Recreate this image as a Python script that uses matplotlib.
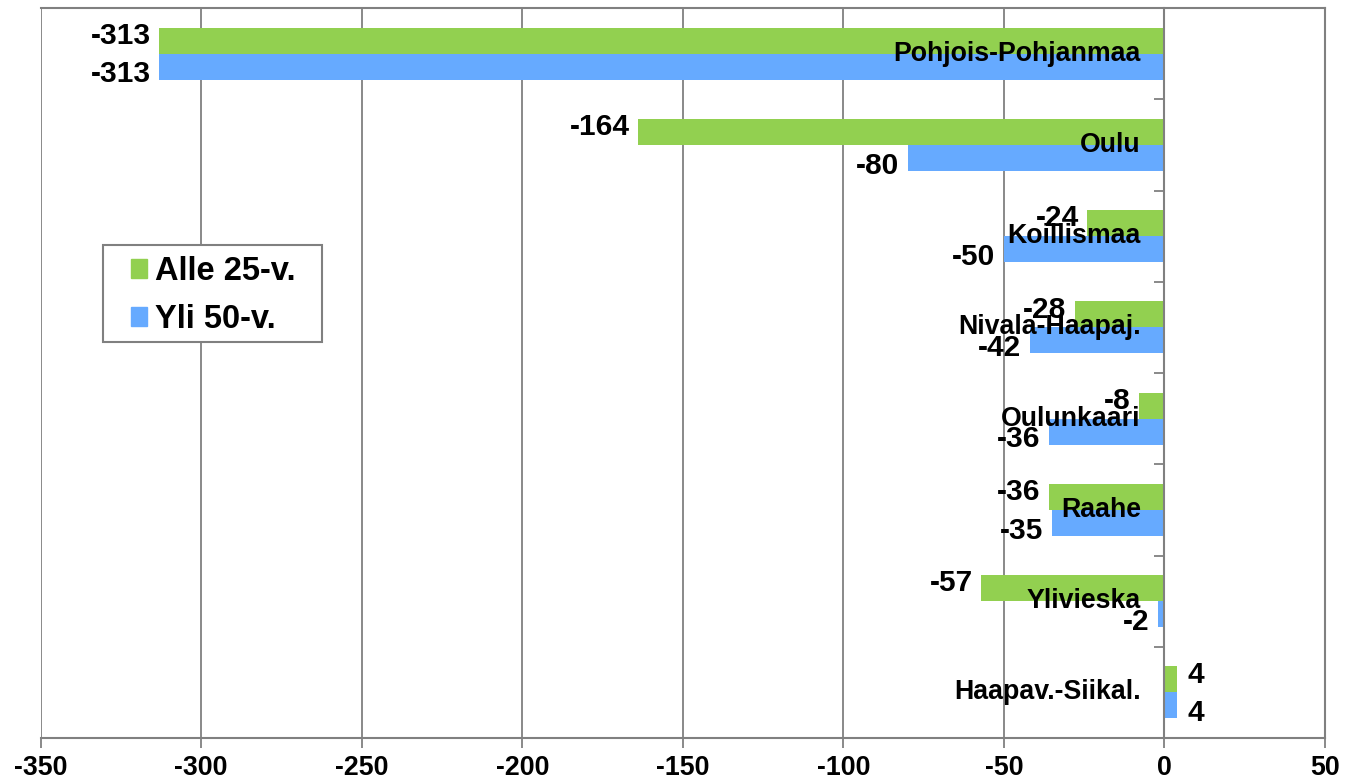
import matplotlib
matplotlib.use("Agg")
import matplotlib.pyplot as plt
import matplotlib.patches as patches
import numpy as np

# --- DATA ---
regions = ["Pohjois-Pohjanmaa", "Oulu", "Koillismaa", "Nivala-Haapaj.",
           "Oulunkaari", "Raahe", "Ylivieska", "Haapav.-Siikal."]
alle_25 = [-313, -164, -24, -28, -8, -36, -57, 4]
yli_50 = [-313, -80, -50, -42, -36, -35, -2, 4]
series_names = ["Alle 25-v.", "Yli 50-v."]
x_ticks = [-350, -300, -250, -200, -150, -100, -50, 0, 50]

GREEN = "#92D050"
BLUE = "#66AAFF"
GRAY = "#808080"

plt.rcParams['font.family'] = ['Liberation Sans', 'DejaVu Sans']
plt.rcParams['font.weight'] = 'bold'

fig = plt.figure(figsize=(13.46, 7.79), dpi=100)
ax = fig.add_axes([0.0302, 0.0526, 0.9542, 0.9371])

y = np.arange(len(regions))
h = 0.285
bars_g = ax.barh(y - h / 2, alle_25, height=h, color=GREEN, zorder=3)
bars_b = ax.barh(y + h / 2, yli_50, height=h, color=BLUE, zorder=3)

# Arvojen tekstit palkkien päihin
for bars, vals, dy in ((bars_g, alle_25, 3.5), (bars_b, yli_50, -5.5)):
    for bar, v in zip(bars, vals):
        yc = bar.get_y() + bar.get_height() / 2
        if v < 0:
            ax.annotate(str(v), (v, yc), xytext=(-6, dy), textcoords="offset points",
                        ha="right", va="center", fontsize=21.5, fontweight="bold", zorder=5)
        else:
            ax.annotate(str(v), (v, yc), xytext=(7, dy), textcoords="offset points",
                        ha="left", va="center", fontsize=21.5, fontweight="bold", zorder=5)

# Alueiden nimet nollaviivan vasemmalle puolelle
for i, name in enumerate(regions):
    ax.annotate(name, (0, i), xytext=(-17, 0), textcoords="offset points",
                ha="right", va="center", fontsize=19.3, fontweight="bold", zorder=6)

ax.set_xlim(-350, 50)
ax.set_ylim(len(regions) - 0.5, -0.5)
ax.set_xticks(x_ticks)
ax.set_xticklabels([str(t) for t in x_ticks], fontsize=19.3, fontweight="bold")
ax.xaxis.grid(True, color=GRAY, linewidth=1.3, zorder=0)
ax.tick_params(axis="x", direction="out", length=7, width=1.3, color=GRAY, pad=5)

# Kategoria-akseli nollakohtaan
ax.spines['left'].set_position(('data', 0))
ax.set_yticks(np.arange(-0.5, len(regions), 1.0))
ax.set_yticklabels([])
ax.tick_params(axis="y", direction="out", length=7, width=1.3, color=GRAY)
for s in ax.spines.values():
    s.set_color(GRAY)
    s.set_linewidth(1.5)
ax.spines['left'].set_zorder(4)

# Selitteen kehys
frame = patches.Rectangle((103 / 1346, 1 - 342 / 779), 219 / 1346, 97 / 779,
                          transform=fig.transFigure, facecolor="white",
                          edgecolor=GRAY, linewidth=1.5, zorder=1)
fig.patches.append(frame)

handles = [patches.Rectangle((0, 0), 1, 1, color=GREEN),
           patches.Rectangle((0, 0), 1, 1, color=BLUE)]
leg = fig.legend(handles, series_names, loc="upper left",
                 bbox_to_anchor=(131 / 1346, 1 - 256 / 779), borderaxespad=0,
                 prop={"size": 23.5, "weight": "bold"}, frameon=False,
                 handlelength=0.5, handleheight=0.5, handletextpad=0.24,
                 labelspacing=0.52, borderpad=0)

fig.savefig("out.png", dpi=100)
